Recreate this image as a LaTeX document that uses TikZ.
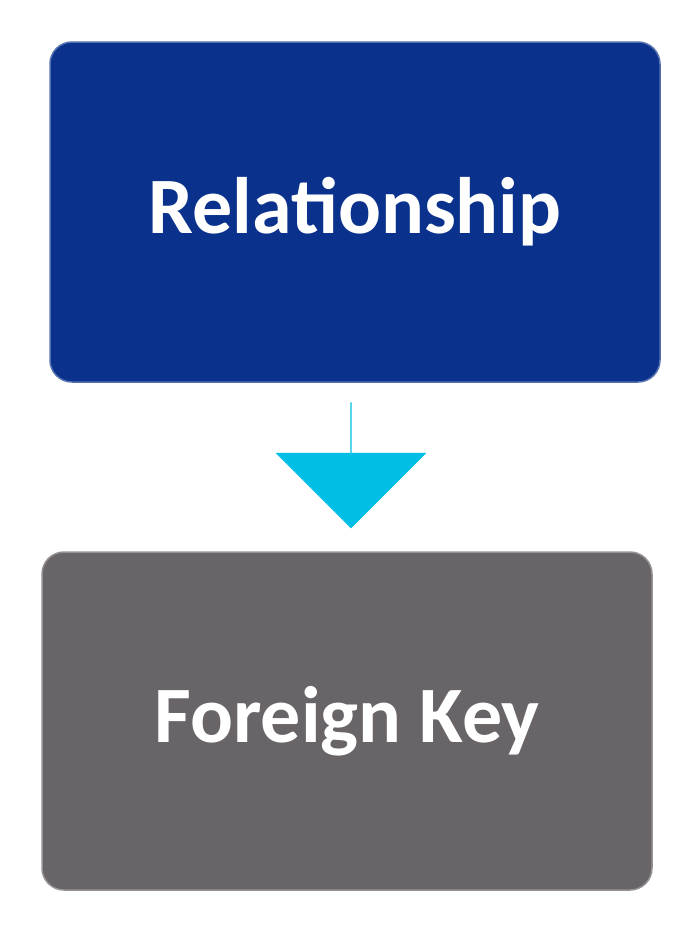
\documentclass[tikz,border=0pt]{standalone}
\usepackage{fontspec}
\setmainfont{Carlito}
\usetikzlibrary{shapes.arrows}
\definecolor{cb}{RGB}{10, 50, 140}
\definecolor{cg}{RGB}{104, 100, 104}
\definecolor{ca}{RGB}{0, 190, 228}

\begin{document}
\begin{tikzpicture}[x=1pt,y=1pt]
\useasboundingbox (0,0) rectangle (696,-932);
\node (rel) [rounded corners=22pt, minimum width=610pt, minimum height=340pt, fill=cb, draw=cb!70!white, line width=1.5pt, text=white, font=\bfseries\fontsize{80}{96}\selectfont] at (355.0pt, -212.0pt) {Relationship};
\node (fk) [rounded corners=22pt, minimum width=610pt, minimum height=338pt, fill=cg, draw=cg!70!white, line width=1.5pt, text=white, font=\bfseries\fontsize{80}{96}\selectfont] at (347.0pt, -721.0pt) {Foreign Key};
\node (arr) [single arrow, shape border rotate=270, fill=ca, minimum width=151pt, single arrow head extend=29.5pt, single arrow tip angle=90, minimum height=126pt, inner sep=0pt] at (351.0pt, -465.0pt) {};
\end{tikzpicture}
\end{document}
